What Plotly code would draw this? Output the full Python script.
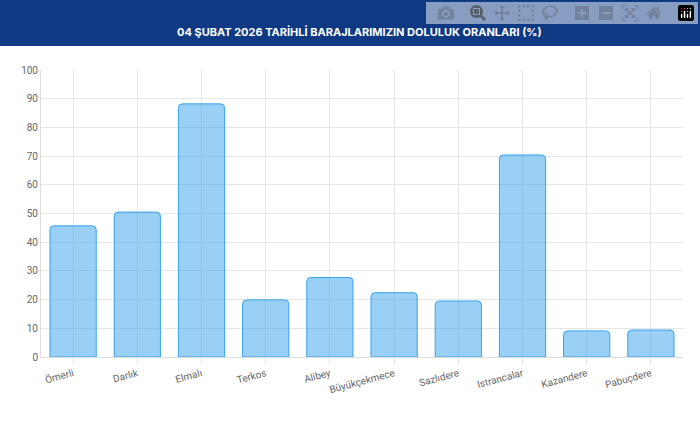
import plotly.graph_objects as go

dams = ["Ömerli","Darlık","Elmalı","Terkos","Alibey","Büyükçekmece","Sazlıdere","Istrancalar","Kazandere","Pabuçdere"]
levels = [45.7, 50.5, 88.2, 19.9, 27.7, 22.4, 19.5, 70.4, 9.1, 9.4]

H = 426 - 70 - 69
fig = go.Figure(go.Bar(
    x=dams, y=levels,
    marker=dict(color="rgba(54,162,235,0.5)", line=dict(color="rgb(54,162,235)", width=1)),
    width=0.72, hoverinfo="x+y",
))
fig.update_layout(
    width=700, height=426,
    margin=dict(l=41, r=17, t=70, b=69),
    paper_bgcolor="white", plot_bgcolor="white",
    barcornerradius=4, showlegend=False,
    font=dict(family="Roboto, Arial", color="#666", size=10),
    shapes=[dict(type="rect", xref="paper", yref="paper", x0=-0.1, x1=1.1,
                 y0=(H+24)/H, y1=1.5, fillcolor="#0f3a83", line=dict(width=0), layer="above")],
    annotations=[dict(text="<b>04 ŞUBAT 2026 TARİHLİ BARAJLARIMIZIN DOLULUK ORANLARI (%)</b>",
                      xref="paper", yref="paper", x=0.5, y=(H+47)/H,
                      showarrow=False, font=dict(color="white", size=11, family="Inter, Arial"), xanchor="center",
                      xshift=-3)],
)
fig.update_xaxes(automargin=False, tickangle=-15, showgrid=True, gridcolor="#e6e6e6", showline=True, linecolor="#ddd",
                 ticks="outside", ticklen=6, tickcolor="#e6e6e6", tickfont=dict(size=10, color="#666"))
fig.update_yaxes(automargin=False, range=[0,100], dtick=10, showgrid=True, gridcolor="#e6e6e6", zeroline=False,
                 showline=True, linecolor="#ddd", tickfont=dict(size=10, color="#666"))
fig.write_html("out.html", post_script="document.body.style.margin='0';")
